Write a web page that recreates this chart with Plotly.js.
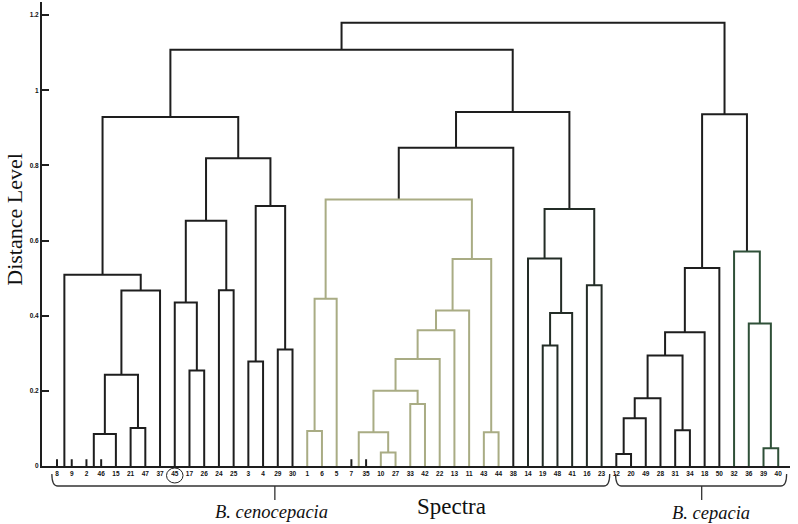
<!DOCTYPE html>
<html><head><meta charset="utf-8">
<script src="https://cdn.plot.ly/plotly-3.0.1.min.js"></script>
<style>html,body{margin:0;padding:0;background:#fff}#chart{width:798px;height:524px}</style>
</head><body><div id="chart"></div>
<script>
// ---- data ----
const leafLabels = ['8','9','2','46','15','21','47','37','45','17','26','24','25','3','4','29','30','1','6','5','7','35','10','27','33','42','22','13','11','43','44','38','14','19','48','41','16','23','12','20','49','28','31','34','18','50','32','36','39','40'];
// merge k joins mergeLeft[k] and mergeRight[k] (leaf label or 'cN' = merge N) at mergeHeight[k]
const mergeLeft  = ['8','2','c1','21','c2','c4','c0','17','45','24','c8','3','29','c11','c10','c6',
                    '1','c16','7','10','c18','33','c20','c22','c23','c24','43','c25','c17',
                    'c28','19','c30','14','16','c32','c29','c15',
                    '12','c37','c38','31','c39','c41','c42','39','36','32','c43','c36'];
const mergeRight = ['9','46','15','47','c3','37','c5','26','c7','25','c9','4','30','c12','c13','c14',
                    '6','5','35','27','c19','42','c21','22','13','11','44','c26','c27',
                    '38','48','41','c31','23','c33','c34','c35',
                    '20','49','28','34','c40','18','50','40','c44','c45','c46','c47'];
const mergeHeight = [0,0,0.085,0.101,0.243,0.467,0.509,0.254,0.435,0.468,0.653,0.278,0.31,0.692,0.819,0.929,
                     0.093,0.445,0,0.036,0.09,0.165,0.2,0.285,0.361,0.414,0.09,0.551,0.709,
                     0.847,0.321,0.407,0.552,0.481,0.684,0.942,1.108,
                     0.032,0.127,0.18,0.095,0.294,0.356,0.527,0.047,0.379,0.571,0.936,1.18];
const yTicks = [0,0.2,0.4,0.6,0.8,1,1.2];

// ---- style ----
const colBlack = '#1e1e1e', colOlive = '#a9ac84', colDark = '#232c26', colGreen = '#2f5038';
function mergeColor(k){
  if (k>=16 && k<=28) return colOlive;
  if (k>=30 && k<=34) return colDark;
  if (k>=44 && k<=46) return colGreen;
  return colBlack;
}
const stubH = 0.018;

// ---- geometry through the tree ----
const leafIdx = {}; leafLabels.forEach((l,i)=>leafIdx[l]=i);
const nodeX = [], nodeH = [];
function pos(ref){
  if (ref[0]==='c'){ const k=+ref.slice(1); return [nodeX[k], nodeH[k]]; }
  return [leafIdx[ref], 0];
}
const segs = {};
function add(col, xs, ys){ if(!segs[col]) segs[col]={x:[],y:[]}; segs[col].x.push(...xs,null); segs[col].y.push(...ys,null); }
for (let k=0;k<mergeHeight.length;k++){
  const [xl,hl]=pos(mergeLeft[k]), [xr,hr]=pos(mergeRight[k]), h=mergeHeight[k];
  nodeX[k]=(xl+xr)/2; nodeH[k]=h;
  if (h===0){
    add(colBlack,[xl,xl],[0,stubH]); add(colBlack,[xr,xr],[0,stubH]);
  } else {
    add(mergeColor(k),[xl,xl,xr,xr],[hl,h,h,hr]);
  }
}
const traces = Object.keys(segs).map(c=>({type:'scatter',mode:'lines',x:segs[c].x,y:segs[c].y,
  line:{color:c,width:2},hoverinfo:'skip',showlegend:false,connectgaps:false}));

// braces (x in leaf units, y in paper units)
const yTop=-0.0172, yMid=-0.0431, yTip=-0.0733, r=0.4;
function brace(x0,tip,x1){
  return `M ${x0},${yTop} Q ${x0},${yMid} ${x0+r},${yMid} L ${x1-r},${yMid} Q ${x1},${yMid} ${x1},${yTop} M ${tip},${yMid} L ${tip},${yTip}`;
}
const i45 = leafIdx['45'];
const shapes = [
  {type:'path',xref:'x',yref:'paper',path:brace(leafIdx['8']-0.35,14.8,leafIdx['23']+0.55),line:{color:'#333',width:1.3}},
  {type:'path',xref:'x',yref:'paper',path:brace(leafIdx['12']-0.05,43.8,leafIdx['40']+0.57),line:{color:'#333',width:1.3}},
  {type:'circle',xref:'x',yref:'paper',x0:i45-0.56,x1:i45+0.56,y0:-0.0366,y1:-0.0043,line:{color:'#222',width:1}}
];

const serif='Liberation Serif, Times New Roman, serif';
const layout = {
  width:798,height:524,margin:{l:42,r:8,t:2,b:58},
  paper_bgcolor:'#fff',plot_bgcolor:'#fff',showlegend:false,
  xaxis:{range:[-1.02,49.8],tickvals:leafLabels.map((_,i)=>i),ticktext:leafLabels,tickangle:0,
    tickfont:{family:'Liberation Sans, Arial, sans-serif',size:6.5,weight:'bold',color:'#111'},
    showline:true,linecolor:colBlack,linewidth:2,ticks:'',showgrid:false,zeroline:false},
  yaxis:{range:[0,1.235],tickvals:yTicks,ticks:'inside',ticklen:7,tickwidth:2,tickcolor:colBlack,
    tickfont:{family:'Liberation Sans, Arial, sans-serif',size:6.5,weight:'bold',color:'#111'},
    showline:true,linecolor:colBlack,linewidth:2,showgrid:false,zeroline:false},
  shapes:shapes,
  annotations:[
    {text:'Distance Level',textangle:-90,xref:'paper',yref:'paper',x:-0.036,y:0.531,xanchor:'center',yanchor:'middle',showarrow:false,font:{family:serif,size:22,color:'#111'}},
    {text:'Spectra',xref:'paper',yref:'paper',x:0.5477,y:-0.0877,xanchor:'center',yanchor:'middle',showarrow:false,font:{family:serif,size:23,color:'#111'}},
    {text:'<i>B. cenocepacia</i>',xref:'x',yref:'paper',x:14.6,y:-0.0985,xanchor:'center',yanchor:'middle',showarrow:false,font:{family:serif,size:18.5,color:'#111'}},
    {text:'<i>B. cepacia</i>',xref:'x',yref:'paper',x:44.4,y:-0.1013,xanchor:'center',yanchor:'middle',showarrow:false,font:{family:serif,size:18.5,color:'#111'}}
  ]
};
Plotly.newPlot('chart',traces,layout,{displayModeBar:false,staticPlot:true});
</script></body></html>
